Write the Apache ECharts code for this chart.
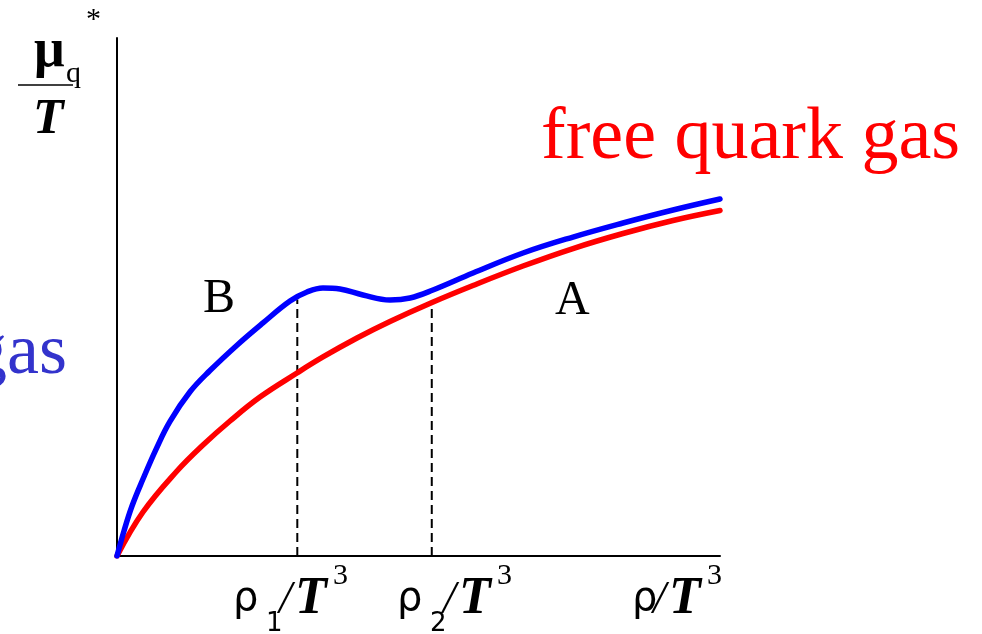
<!DOCTYPE html>
<html>
<head>
<meta charset="utf-8">
<script src="https://cdn.jsdelivr.net/npm/echarts@6/dist/echarts.min.js"></script>
<style>
  html, body { margin: 0; padding: 0; background: #fff; }
  #chart { width: 982px; height: 634px; }
</style>
</head>
<body>
<div id="chart"></div>
<script>
// Quark chemical potential mu_q*/T versus density rho/T^3
// Curve "A": free quark gas (red); curve "B": interacting case with a van der Waals-like wiggle (blue)
const curveB = [
  [0, 0], [0.116, 0.483], [0.249, 0.965], [0.431, 1.486], [0.647, 2.06], [0.879, 2.6],
  [1.211, 3.17], [1.542, 3.58], [1.99, 4.07], [2.421, 4.5], [2.869, 4.923],
  [3.151, 5.097], [3.416, 5.174], [3.698, 5.154], [4.08, 5.039], [4.527, 4.942],
  [4.859, 4.981], [5.24, 5.135], [5.904, 5.463], [6.733, 5.849], [7.562, 6.158],
  [8.391, 6.429], [9.221, 6.68], [10, 6.892]
];
const curveA = [
  [0, 0], [0.431, 0.849], [0.995, 1.641], [1.426, 2.143], [1.874, 2.606], [2.371, 3.069],
  [2.985, 3.533], [3.416, 3.842], [3.98, 4.208], [4.527, 4.527], [5.224, 4.894],
  [5.904, 5.222], [6.733, 5.598], [7.562, 5.936], [8.391, 6.226], [9.221, 6.477], [10, 6.67]
];
// Coexistence boundaries rho_1 and rho_2 and the heights where the dashed guides stop
const boundaryX = [2.99, 5.22];
const boundaryTop = [4.95, 4.9];

const serif = "'Liberation Serif', 'Times New Roman', serif";
const sans = "'DejaVu Sans', sans-serif";

const chart = echarts.init(document.getElementById('chart'), null, { renderer: 'canvas' });

function piece(text, x, y, size, opts) {
  opts = opts || {};
  return {
    type: 'text',
    silent: true,
    style: {
      text: text,
      x: x,
      y: y,
      fill: opts.color || '#000',
      font: (opts.style || '') + ' ' + (opts.weight || 'normal') + ' ' + size + 'px ' + (opts.family || serif),
      textAlign: opts.align || 'left',
      textVerticalAlign: 'middle'
    }
  };
}

// Axis label "rho_i / T^3" assembled from pieces
function rhoLabel(x0, sub) {
  const parts = [piece('ρ', x0, 600, 40, { family: sans })];
  let dx = 0;
  if (sub) {
    parts.push(piece(sub, x0 + 33, 624, 26, { family: sans }));
  } else {
    dx = -25;
  }
  parts.push(piece('/', x0 + 46 + dx, 601, 46, { style: 'italic' }));
  parts.push(piece('T', x0 + 62 + dx, 600, 52, { style: 'italic', weight: 'bold' }));
  parts.push(piece('3', x0 + 100 + dx, 576, 30));
  return parts;
}

const dashed = boundaryX.map((x, i) => ({
  type: 'line',
  data: [[x, 0], [x, boundaryTop[i]]],
  symbol: 'none',
  silent: true,
  z: 1,
  lineStyle: { color: '#000', width: 2, type: [9, 5] }
}));

chart.setOption({
  animation: false,
  backgroundColor: '#fff',
  grid: { left: 117, right: 262, top: 38, bottom: 78 },
  xAxis: {
    type: 'value', min: 0, max: 10,
    axisLine: { show: true, onZero: false, lineStyle: { color: '#000', width: 2 } },
    axisTick: { show: false }, axisLabel: { show: false }, splitLine: { show: false }
  },
  yAxis: {
    type: 'value', min: 0, max: 10,
    axisLine: { show: true, onZero: false, lineStyle: { color: '#000', width: 2 } },
    axisTick: { show: false }, axisLabel: { show: false }, splitLine: { show: false }
  },
  series: dashed.concat([
    {
      name: 'A', type: 'line', data: curveA, symbol: 'none', smooth: 0.4, z: 3,
      lineStyle: { color: '#ff0000', width: 5.5, cap: 'round' }
    },
    {
      name: 'B', type: 'line', data: curveB, symbol: 'none', smooth: 0.4, z: 4,
      lineStyle: { color: '#0000ff', width: 5.5, cap: 'round' }
    }
  ]),
  graphic: [
    // vertical axis title: mu_q* over T
    piece('μ', 34, 52, 54, { weight: 'bold' }),
    piece('q', 66, 74, 30),
    piece('*', 86, 20, 30),
    { type: 'line', silent: true, shape: { x1: 18, y1: 85, x2: 73, y2: 85 }, style: { stroke: '#000', lineWidth: 1.5 } },
    piece('T', 33, 120, 50, { style: 'italic', weight: 'bold' }),
    // curve annotations
    piece('B', 203, 299, 48),
    piece('A', 555, 301, 48),
    piece('free quark gas', 541, 139, 74, { color: '#ff0000' }),
    piece('gas', 67, 354, 72, { color: '#3333cc', align: 'right' })
  ].concat(rhoLabel(233, '1'), rhoLabel(397, '2'), rhoLabel(632, null))
});
</script>
</body>
</html>
